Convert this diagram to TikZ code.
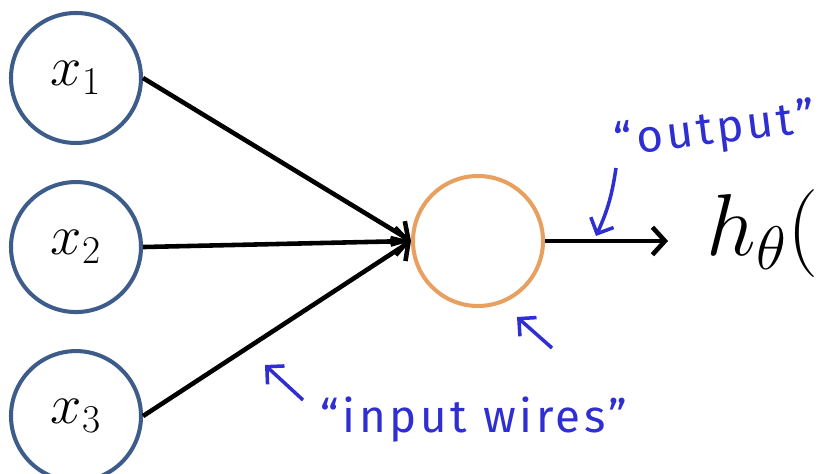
\RequirePackage{fix-cm}
\documentclass[tikz,border=0pt]{standalone}
\usepackage{fontspec}
\usepackage{tikz}
\usetikzlibrary{arrows.meta,positioning}
\definecolor{Input_Blue}{HTML}{3E5C8A}
\definecolor{Unit_Orange}{HTML}{E8A060}
\definecolor{Pen_Blue}{HTML}{2E2ED2}
\newfontfamily\penfont[LetterSpace=8]{Fira Sans}

\begin{document}
\begin{tikzpicture}[
    unit/.style={circle, minimum size=2.6cm, inner sep=0pt, line width=2.3pt, font=\fontsize{32}{38}\selectfont},
    wire/.style={line width=2.6pt, -{Straight Barb[length=2.5mm,width=5.5mm]}},
    pen/.style={Pen_Blue, line width=2pt, -{Straight Barb[length=2.5mm,width=5mm]}},
    note/.style={Pen_Blue, inner sep=0pt, font=\penfont\fontsize{26}{30}\selectfont}]
    \useasboundingbox (0,0) rectangle (16.38,9.48);

    % Inputs
    \node[unit, draw=Input_Blue] (x1) at (1.52,7.92) {$x_1$};
    \node[unit, draw=Input_Blue, below=0.7cm of x1] (x2) {$x_2$};
    \node[unit, draw=Input_Blue, below=0.7cm of x2] (x3) {$x_3$};

    % Neuron
    \node[unit, draw=Unit_Orange] (neuron) at (9.56,4.66) {};

    % Output
    \node[anchor=base west, inner sep=0pt, font=\fontsize{50}{60}\selectfont] (hyp) at (14.13,4.36) {$h_\theta(x)$};
    \coordinate (tip) at (13.36,4.66);

    % Wires
    \draw[wire] (x1.east) -- (neuron.west);
    \draw[wire] (x2.east) -- (neuron.west);
    \draw[wire] (x3.east) -- (neuron.west);
    \draw[wire] (neuron.east) -- (tip);

    % Hand notes
    \node[note, rotate=7] (outlbl) at (14.3,6.85) {“output”};
    \node[note, anchor=base] (inlbl) at (9.48,0.82) {“input wires”};

    \coordinate (o1) at (12.32,6.12);
    \coordinate (o2) at (11.92,4.76);
    \coordinate (i1) at (6.06,1.48);
    \coordinate (i2) at (5.30,2.18);
    \coordinate (n1) at (11.04,2.52);
    \coordinate (n2) at (10.34,3.14);
    \draw[pen] (o1) to[bend left=8] (o2);
    \draw[pen] (i1) -- (i2);
    \draw[pen] (n1) -- (n2);

\end{tikzpicture}
\end{document}
